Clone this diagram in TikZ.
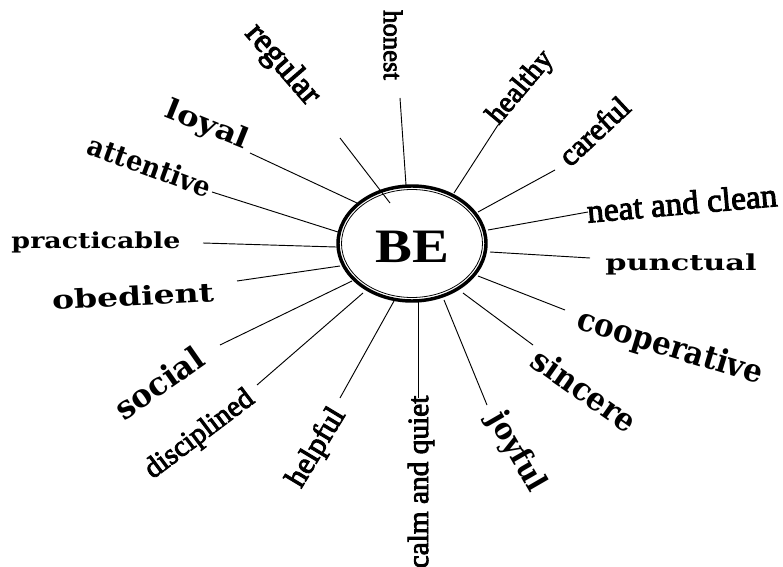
\documentclass[tikz,border=0pt]{standalone}
\usepackage{fontspec}
\setmainfont{Liberation Serif}
\newfontfamily\heavyserif[FakeBold=3]{Liberation Serif}
\newfontfamily\widefont{DejaVu Serif Bold}
\newcommand{\fsz}[1]{\fontsize{#1}{#1}\selectfont}
\begin{document}
\begin{tikzpicture}[x=0.75pt,y=-0.75pt,
  lab/.style={inner sep=0pt, anchor=center},
  tms/.style={lab, font=\heavyserif},
  wd/.style={lab, font=\widefont},
  spoke/.style={line width=0.7pt, black}]
\useasboundingbox (0,0) rectangle (783,567);
% centre
\draw[line width=2.6pt] (412,243.5) ellipse [x radius=74, y radius=57.5];
\draw[line width=0.6pt] (412,243.5) ellipse [x radius=70.5, y radius=54];
\node[lab, font=\bfseries, xscale=1.15] (be) at (412,247) {\fsz{36pt}BE};
% labels (Times-like)
\node[tms, rotate=-90] (honest) at (393,45) {\fsz{20pt}honest};
\node[tms, rotate=-49] (regular) at (282,65) {\fsz{25.5pt}regular};
\node[tms, rotate=50] (healthy) at (521,88) {\fsz{22pt}healthy};
\node[tms, rotate=43] (careful) at (594,131) {\fsz{23pt}careful};
\node[tms, rotate=5] (neat) at (682,203) {\fsz{25pt}neat and clean};
\node[tms, rotate=90] (calm) at (421,482) {\fsz{22pt}calm and quiet};
\node[tms, rotate=59] (helpful) at (317,448) {\fsz{23pt}helpful};
\node[tms, rotate=37] (disciplined) at (200,435) {\fsz{22pt}disciplined};
% labels (wide)
\node[wd, xscale=1.22] (practicable) at (96,242) {\fsz{16.5pt}practicable};
\node[wd, rotate=3, xscale=1.27] (obedient) at (133,296) {\fsz{19.5pt}obedient};
\node[wd, xscale=1.38] (punctual) at (681,264) {\fsz{16.5pt}punctual};
\node[wd, rotate=-17, xscale=0.92] (cooperative) at (670,348) {\fsz{24pt}cooperative};
\node[wd, rotate=-35, xscale=0.92] (sincere) at (585,390) {\fsz{24pt}sincere};
\node[wd, rotate=-60, xscale=0.92] (joyful) at (516,452) {\fsz{22.5pt}joyful};
\node[wd, rotate=35, xscale=0.97] (social) at (159,383) {\fsz{24pt}social};
\node[wd, rotate=-22, xscale=1.17] (loyal) at (207,126) {\fsz{21pt}loyal};
\node[wd, rotate=-20, xscale=0.92] (attentive) at (150,166) {\fsz{21pt}attentive};
% spoke end points
\coordinate (honestA) at (400,98);   \coordinate (honestB) at (406,185);
\coordinate (regularA) at (340,138); \coordinate (regularB) at (390,203);
\coordinate (loyalA) at (250,153);   \coordinate (loyalB) at (357,203);
\coordinate (attA) at (212,192);     \coordinate (attB) at (338,232);
\coordinate (pracA) at (203,243);    \coordinate (pracB) at (336,247);
\coordinate (obA) at (237,281);      \coordinate (obB) at (340,266);
\coordinate (socA) at (220,345);     \coordinate (socB) at (352,281);
\coordinate (disA) at (257,385);     \coordinate (disB) at (363,293);
\coordinate (helpA) at (340,398);    \coordinate (helpB) at (394,301);
\coordinate (calmA) at (418,398);    \coordinate (calmB) at (418,302);
\coordinate (joyA) at (487,405);     \coordinate (joyB) at (444,300);
\coordinate (sinA) at (533,345);     \coordinate (sinB) at (463,293);
\coordinate (coopA) at (565,310);    \coordinate (coopB) at (478,276);
\coordinate (puncA) at (590,258);    \coordinate (puncB) at (490,252);
\coordinate (neatA) at (588,212);    \coordinate (neatB) at (488,230);
\coordinate (carA) at (555,170);     \coordinate (carB) at (478,212);
\coordinate (healA) at (498,125);    \coordinate (healB) at (454,193);
\foreach \s in {honest,regular,loyal,att,prac,ob,soc,dis,help,calm,joy,sin,coop,punc,neat,car,heal}
  \draw[spoke] (\s A) -- (\s B);
\end{tikzpicture}
\end{document}
